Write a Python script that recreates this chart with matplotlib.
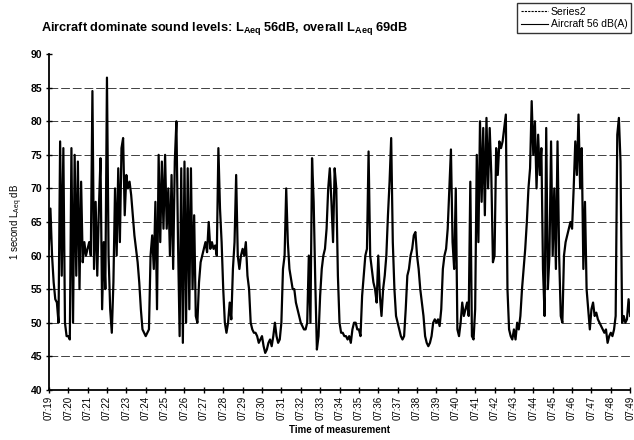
import matplotlib
matplotlib.use("Agg")
import matplotlib.pyplot as plt
from matplotlib.lines import Line2D
import numpy as np

plt.rcParams['font.family'] = ['Liberation Sans', 'DejaVu Sans']
plt.rcParams['mathtext.fontset'] = 'custom'
plt.rcParams['mathtext.rm'] = 'Liberation Sans'
plt.rcParams['mathtext.bf'] = 'Liberation Sans:bold'

# 5-second readings, one list per minute (dB)
m0719 = [61, 67, 60, 56, 53.5, 53, 50, 77, 57, 76, 50, 48]
m0720 = [48, 47.5, 76, 50, 75, 57, 74, 55, 71, 59, 62, 60]
m0721 = [61, 62, 60, 84.5, 58, 68, 57, 67, 74.5, 52, 62, 55]
m0722 = [86.5, 60, 52, 48.5, 56, 70, 60, 73, 62, 76, 77.5, 66]
m0723 = [72, 70, 71, 69, 66, 63, 61, 59, 56, 52, 49, 48.5]
m0724 = [48, 48.5, 49, 60, 63, 58, 68, 52, 75, 62, 74, 64]
m0725 = [75, 64, 70, 60, 72, 58, 74, 80, 62, 48, 73, 47]
m0726 = [74, 50, 73, 52, 73, 55, 66, 51, 50, 56, 59, 60]
m0727 = [61, 62, 60.5, 65, 61, 62, 61, 61.5, 60, 76, 67, 62]
m0728 = [55, 50, 48.5, 50, 53, 50.5, 58, 62, 72, 60, 58, 60]
m0729 = [61, 60, 62, 57, 55, 50, 49, 48.5, 48.5, 48, 47, 47.5]
m0730 = [48, 46.5, 45.5, 46, 47, 47.5, 46.5, 48, 50, 48, 47, 47.5]
m0731 = [50, 58, 60, 70, 62, 58, 56.5, 55, 55, 53, 52, 51]
m0732 = [50, 49.5, 49, 49, 50, 60, 50, 74.5, 68, 56, 46, 48]
m0733 = [54, 58, 60, 61, 64, 70, 73, 68, 62, 73, 70, 57]
m0734 = [50, 48.5, 48.5, 48, 48, 47.5, 48, 47, 49, 50, 50, 49]
m0735 = [49, 48, 54, 57, 60, 61, 75.5, 60, 58, 56, 55, 53]
m0736 = [60, 54, 51, 55, 57, 60, 66, 71, 77.5, 62, 55, 51]
m0737 = [50, 49, 48, 47.5, 48, 52, 57, 58, 60, 61, 63, 63.5]
m0738 = [60, 58, 55, 53, 51, 48, 47, 46.5, 47, 48, 50, 50.5]
m0739 = [50, 50.5, 49.5, 52, 58, 60, 61, 64, 70, 75.8, 62, 58]
m0740 = [70, 49, 48, 50, 53, 51, 52, 53, 51, 71, 48, 47.5]
m0741 = [52, 75, 62, 80, 68, 79, 66, 80.5, 70, 79, 72, 59]
m0742 = [60, 76, 72, 77, 76, 77, 79, 81, 55, 49, 48, 47.5]
m0743 = [49, 47.5, 50, 49, 51, 55, 58, 61, 65, 70, 73, 83]
m0744 = [75, 80, 70, 78, 72, 76, 58, 51, 79, 55, 60, 77]
m0745 = [60, 70, 58, 77, 60, 51, 50, 60, 62, 63, 64, 65]
m0746 = [64, 70, 77, 72, 81, 70, 76, 58, 68, 55, 52, 49]
m0747 = [52, 53, 51, 51.5, 50.5, 50, 49.5, 49, 48.5, 49, 47, 48]
m0748 = [48.5, 48, 49, 51, 78, 80.5, 74, 50, 51, 50, 50.5, 53.5]
last_value = [51]

tick_labels = ["07:%02d" % m for m in range(19, 50)]
title_text = "Aircraft dominate sound levels: L$_\\mathbf{Aeq}$ 56dB, overall L$_\\mathbf{Aeq}$ 69dB"
legend_labels = ["Series2", "Aircraft 56 dB(A)"]

minutes = [m0719, m0720, m0721, m0722, m0723, m0724, m0725, m0726, m0727, m0728,
           m0729, m0730, m0731, m0732, m0733, m0734, m0735, m0736, m0737, m0738,
           m0739, m0740, m0741, m0742, m0743, m0744, m0745, m0746, m0747, m0748]
levels = []
for mm in minutes:
    levels.extend(mm)
levels.extend(last_value)
seconds = np.arange(len(levels)) * 5

fig = plt.figure(figsize=(6.34, 4.40), dpi=100)
ax = fig.add_axes([0.077, 0.114, 0.917, 0.763])

for yv in range(45, 90, 5):
    ax.axhline(yv, color='0.25', lw=0.7, ls=(0, (9, 3)), zorder=1)

ax.plot(seconds, levels, color='black', lw=1.6, zorder=3)

ax.set_xlim(0, 1800)
ax.set_ylim(40, 90)
ax.set_xticks(np.arange(0, 1801, 60))
ax.set_xticklabels(tick_labels, rotation=90, fontsize=7)
ax.set_yticks(np.arange(40, 91, 5))
ax.set_yticklabels([str(v) for v in range(40, 91, 5)], fontsize=7.5, fontweight='bold')
ax.tick_params(axis='both', direction='inout', length=5, width=1, pad=2)
for s in ['top', 'right']:
    ax.spines[s].set_visible(False)
for s in ['left', 'bottom']:
    ax.spines[s].set_linewidth(1.3)

ax.set_xlabel("Time of measurement", fontsize=7, fontweight='bold', labelpad=3)
ax.set_ylabel("1 second L$_\\mathrm{Aeq}$ dB", fontsize=7, labelpad=4)

fig.text(0.064, 0.935, title_text, fontsize=9.2, fontweight='bold', ha='left', va='center')

handles = [Line2D([], [], color='black', lw=0.8, ls=(0, (2, 1))),
           Line2D([], [], color='black', lw=0.8)]
leg = fig.legend(handles, legend_labels, loc='upper right', bbox_to_anchor=(0.996, 0.993),
                 fontsize=7.5, frameon=True, fancybox=False, edgecolor='black',
                 handlelength=2.6, handletextpad=0.3, borderpad=0.35, labelspacing=0.25,
                 borderaxespad=0)
leg.get_frame().set_linewidth(1.0)

fig.savefig("out.png", dpi=100)
